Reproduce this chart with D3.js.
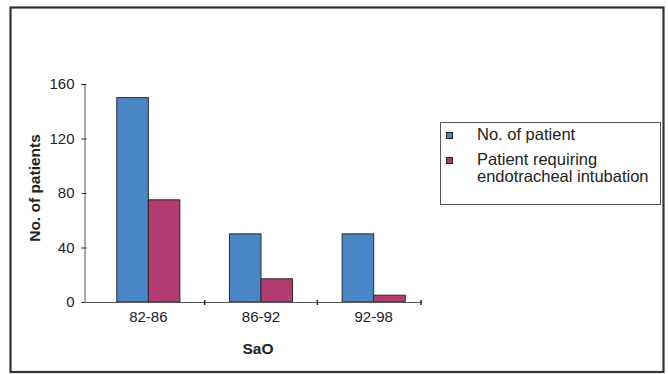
<!DOCTYPE html>
<html>
<head>
<meta charset="utf-8">
<script src="https://cdn.jsdelivr.net/npm/d3@7"></script>
<style>
html,body{margin:0;padding:0;background:#fff;}
svg{display:block;font-family:"Liberation Sans",Arial,sans-serif;}
</style>
</head>
<body>
<svg id="chart" width="668" height="374"></svg>
<script>
const categories = ["82-86", "86-92", "92-98"];
const seriesNames = ["No. of patient", "Patient requiring endotracheal intubation"];
const totalPatients = [150, 50, 50];
const intubated = [75, 17, 5];
const yTicks = [0, 40, 80, 120, 160];
const colors = ["#4a86c6", "#b33c72"];

const data = categories.map((c, i) => ({cat: c, values: [totalPatients[i], intubated[i]]}));

const svg = d3.select("#chart");

// outer frame
svg.append("rect").attr("x", 10.5).attr("y", 7.5).attr("width", 653).attr("height", 364.5)
  .attr("fill", "#fff").attr("stroke", "#333").attr("stroke-width", 2.2);

const y = d3.scaleLinear().domain([0, 160]).range([302, 84]);
const x = d3.scaleBand().domain(categories).range([92, 430]).padding(0);
const xs = d3.scaleBand().domain([0, 1]).range([x.bandwidth() * 0.22, x.bandwidth() * 0.78]).padding(0);

const axisColor = "#555";

// bars
const g = svg.append("g");
const groups = g.selectAll("g.grp").data(data).join("g")
  .attr("class", "grp")
  .attr("transform", d => `translate(${x(d.cat)},0)`);
groups.selectAll("rect").data(d => d.values.map((v, k) => ({v, k}))).join("rect")
  .attr("x", d => xs(d.k))
  .attr("y", d => y(d.v))
  .attr("width", xs.bandwidth())
  .attr("height", d => y(0) - y(d.v))
  .attr("fill", d => colors[d.k])
  .attr("stroke", "#2a2a2a")
  .attr("stroke-width", 1);

// y axis
const yAxis = d3.axisLeft(y).tickValues(yTicks).tickSize(3).tickPadding(7).tickFormat(d3.format("d"));
const ya = svg.append("g").attr("transform", "translate(84.5,0)").call(yAxis);
ya.select(".domain").attr("stroke", axisColor);
ya.selectAll(".tick line").attr("stroke", "#222").attr("x2", -3).attr("x1", 2);
ya.selectAll(".tick text").attr("font-size", 15).attr("fill", "#222")
  .attr("font-family", "Liberation Sans, Arial, sans-serif");

// x axis line
const xEnd = 421;
svg.append("line").attr("x1", 84).attr("x2", xEnd).attr("y1", y(0) + 0.5).attr("y2", y(0) + 0.5)
  .attr("stroke", axisColor).attr("stroke-width", 1.2);
// ticks at category boundaries
const tickXs = categories.slice(1).map(c => x(c)).concat([xEnd]);
svg.selectAll("line.xt").data(tickXs).join("line").attr("class", "xt")
  .attr("x1", d => d).attr("x2", d => d)
  .attr("y1", y(0) - 2).attr("y2", y(0) + 3)
  .attr("stroke", "#222").attr("stroke-width", 1.5);
// category labels
svg.selectAll("text.xl").data(categories).join("text").attr("class", "xl")
  .attr("x", d => x(d) + x.bandwidth() / 2)
  .attr("y", 322)
  .attr("text-anchor", "middle")
  .attr("font-size", 15).attr("fill", "#222")
  .text(d => d);

// axis titles
svg.append("text").attr("x", 258).attr("y", 354).attr("text-anchor", "middle")
  .attr("font-size", 15.5).attr("font-weight", "bold").attr("fill", "#222").text("SaO");
svg.append("text").attr("transform", "translate(40,188) rotate(-90)").attr("text-anchor", "middle")
  .attr("font-size", 15.5).attr("font-weight", "bold").attr("fill", "#222").text("No. of patients");

// legend
const lg = svg.append("g");
lg.append("rect").attr("x", 440.5).attr("y", 122.5).attr("width", 220).attr("height", 82)
  .attr("fill", "#fff").attr("stroke", "#555").attr("stroke-width", 1);
const legendItems = [
  {lines: ["No. of patient"], my: 132.5, ty: 140},
  {lines: ["Patient requiring", "endotracheal intubation"], my: 157.5, ty: 165}
];
legendItems.forEach((it, i) => {
  lg.append("rect").attr("x", 446.5).attr("y", it.my).attr("width", 6).attr("height", 6)
    .attr("fill", colors[i]).attr("stroke", "#222").attr("stroke-width", 1);
  const t = lg.append("text").attr("x", 477).attr("y", it.ty).attr("font-size", 16.5).attr("fill", "#222");
  it.lines.forEach((ln, j) => {
    t.append("tspan").attr("x", 477).attr("dy", j === 0 ? 0 : 17).text(ln);
  });
});
</script>
</body>
</html>
